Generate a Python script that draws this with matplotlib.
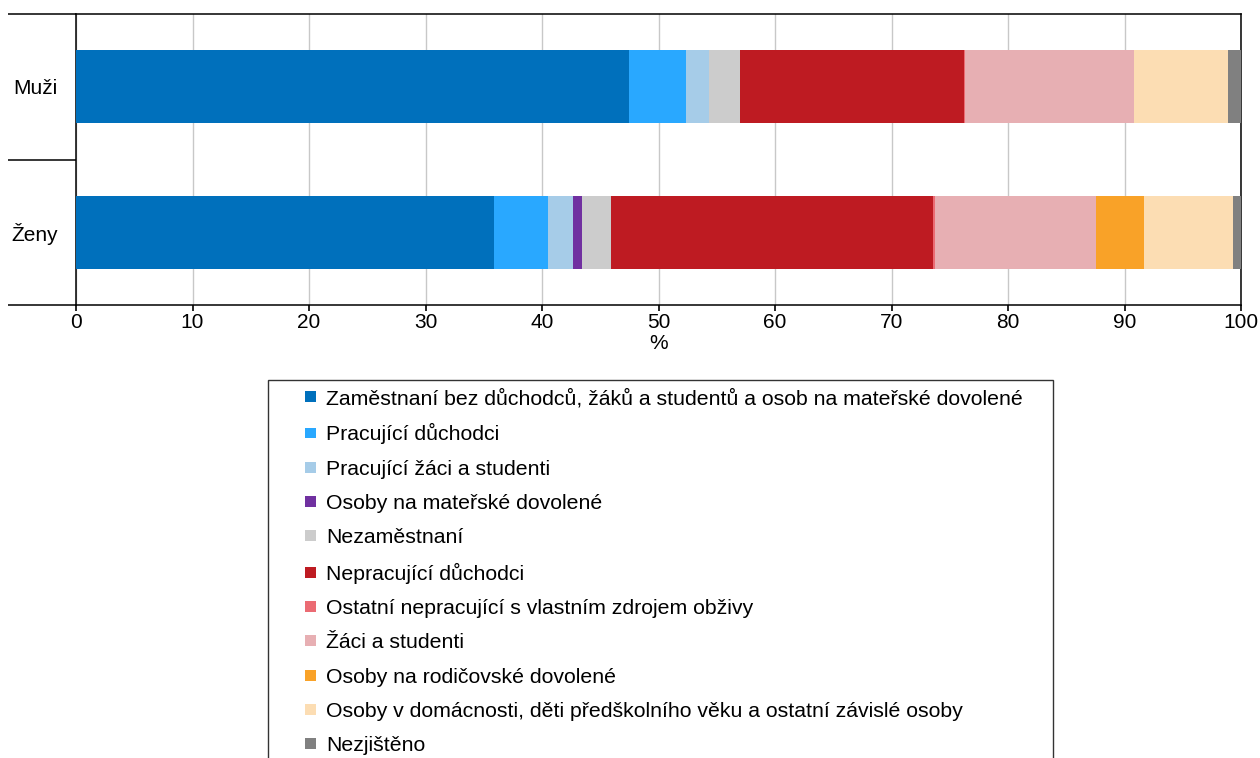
import matplotlib
matplotlib.use('Agg')
import matplotlib.pyplot as plt
from matplotlib.patches import Rectangle, Patch
from matplotlib.legend_handler import HandlerPatch

plt.rcParams['font.family'] = ['Liberation Sans', 'DejaVu Sans']

# Data (% share)
groups = ['Muži', 'Ženy']
categories = [
    'Zaměstnaní bez důchodců, žáků a studentů a osob na mateřské dovolené',
    'Pracující důchodci',
    'Pracující žáci a studenti',
    'Osoby na mateřské dovolené',
    'Nezaměstnaní',
    'Nepracující důchodci',
    'Ostatní nepracující s vlastním zdrojem obživy',
    'Žáci a studenti',
    'Osoby na rodičovské dovolené',
    'Osoby v domácnosti, děti předškolního věku a ostatní závislé osoby',
    'Nezjištěno',
]
muzi = [47.5, 4.9, 1.9, 0.0, 2.7, 19.2, 0.15, 14.45, 0.0, 8.05, 1.15]
zeny = [35.85, 4.65, 2.2, 0.7, 2.5, 27.7, 0.1, 13.85, 4.1, 7.7, 0.65]
colors = ['#0070BC', '#29A8FF', '#A6CCE8', '#7030A0', '#CCCCCC', '#BE1B22',
          '#EB6B73', '#E7AFB3', '#F9A228', '#FCDDB3', '#808080']

fig = plt.figure(figsize=(12.6, 7.58), dpi=100)
ax = fig.add_axes([76 / 1260, 1 - 305 / 758, (1241 - 76) / 1260, (305 - 14) / 758])

ypos = [1, 0]
values = [muzi, zeny]
for yi, vals in zip(ypos, values):
    left = 0
    for v, c in zip(vals, colors):
        ax.barh(yi, v, left=left, height=0.5, color=c, zorder=3)
        left += v

ax.set_xlim(0, 100)
ax.set_ylim(-0.5, 1.5)
ax.set_xticks(range(0, 101, 10))
ax.grid(True, axis='x', color='#C8C8C8', linewidth=1.0, zorder=0)
ax.tick_params(axis='x', length=4, width=1.2, labelsize=15, pad=2)
ax.set_xlabel('%', fontsize=15, labelpad=1)

# category separators extending left, Excel-style
ax.set_yticks([-0.5, 0.5, 1.5])
ax.set_yticklabels([])
ax.tick_params(axis='y', which='major', length=49, width=1.1, color='black')
ax.set_yticks(ypos, minor=True)
ax.set_yticklabels(groups, minor=True)
ax.tick_params(axis='y', which='minor', length=0, labelsize=15, pad=13)

for s in ax.spines.values():
    s.set_color('black')
    s.set_linewidth(1.1)

fs = 15.3
sq = 7.9  # square size in points


def square_handle(legend, orig_handle, xdescent, ydescent, width, height, fontsize):
    return Rectangle((width - sq - xdescent, (height - sq) / 2 - ydescent), sq, sq)


handles = [Patch(facecolor=c, edgecolor='none') for c in colors]
leg = fig.legend(handles, categories, loc='upper left', mode='expand',
                 bbox_to_anchor=(268 / 1260, 1 - 380 / 758 - 0.6, 785 / 1260, 0.6),
                 borderaxespad=0,
                 fontsize=fs, frameon=True, fancybox=False, edgecolor='black',
                 handlelength=1.86, handleheight=0.7, handletextpad=0.47,
                 borderpad=0.4, labelspacing=0.72,
                 handler_map={Patch: HandlerPatch(patch_func=square_handle)})
leg.get_frame().set_linewidth(1.0)

fig.savefig('out.png', dpi=100)
